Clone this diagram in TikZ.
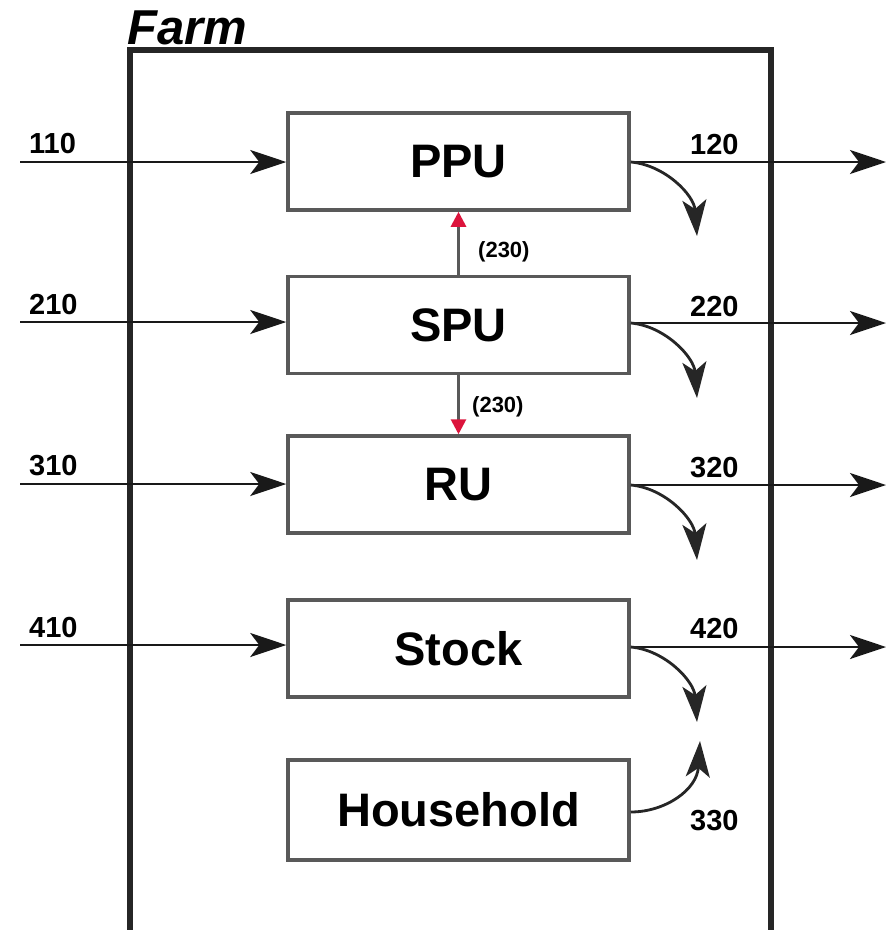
\documentclass[tikz,border=0pt]{standalone}
\usepackage{fontspec}
\setmainfont{Liberation Sans}
\usetikzlibrary{arrows.meta}
\definecolor{boxgray}{gray}{0.35}
\definecolor{tipred}{RGB}{220,20,60}
\tikzset{
  unitbox/.style={draw=boxgray, line width=3.5pt, minimum width=341pt, minimum height=97pt, inner sep=0pt, font=\bfseries\fontsize{47}{47}\selectfont},
  flow/.style={line width=2.8pt, draw=black!90, -{Stealth[length=36pt,width=24pt,inset=9pt]}},
  loss/.style={line width=2.8pt, draw=black!85, -{Stealth[length=36pt,width=24pt,inset=9pt]}},
  inner/.style={line width=2.8pt, draw=boxgray, -{Triangle[length=15pt,width=15pt,fill=tipred,color=tipred]}},
  num/.style={font=\bfseries\fontsize{29}{29}\selectfont, inner sep=0pt},
  small/.style={font=\bfseries\fontsize{22}{22}\selectfont, inner sep=0pt},
  frame/.style={line width=6pt, draw=black!85}
}
\begin{document}
\begin{tikzpicture}[x=1pt,y=-1pt]
\useasboundingbox (0,0) rectangle (891,930);
\fill[white] (0,0) rectangle (891,930);
% frame
\draw[frame] (130,935) -- (130,50) -- (771,50) -- (771,935);
\node[anchor=base west, inner sep=0pt, font=\bfseries\itshape\fontsize{49}{49}\selectfont] (farm) at (127,44) {Farm};
% boxes
\node[unitbox] (ppu) at (458.5,161.5) {PPU};
\node[unitbox] (spu) at (458.5,325) {SPU};
\node[unitbox] (ru) at (458.5,484.5) {RU};
\node[unitbox] (stock) at (458.5,648.5) {Stock};
\node[unitbox, minimum height=100pt] (hh) at (458.5,810) {Household};
% inputs
\coordinate (i1) at (20,162);
\coordinate (i2) at (20,322);
\coordinate (i3) at (20,484);
\coordinate (i4) at (20,645);
\draw[flow] (i1) -- (ppu.west |- i1);
\draw[flow] (i2) -- (spu.west |- i2);
\draw[flow] (i3) -- (ru.west |- i3);
\draw[flow] (i4) -- (stock.west |- i4);
\node[num, anchor=base west] (l110) at (29,153) {110};
\node[num, anchor=base west] (l210) at (29,314) {210};
\node[num, anchor=base west] (l310) at (29,475) {310};
\node[num, anchor=base west] (l410) at (29,637) {410};
% outputs
\coordinate (o1) at (886,162);
\coordinate (o2) at (886,323);
\coordinate (o3) at (886,485);
\coordinate (o4) at (886,647);
\draw[flow] (ppu.east |- o1) -- (o1);
\draw[flow] (spu.east |- o2) -- (o2);
\draw[flow] (ru.east |- o3) -- (o3);
\draw[flow] (stock.east |- o4) -- (o4);
\node[num, anchor=base west] (l120) at (690,154) {120};
\node[num, anchor=base west] (l220) at (690,316) {220};
\node[num, anchor=base west] (l320) at (690,477) {320};
\node[num, anchor=base west] (l420) at (690,638) {420};
% losses
\coordinate (d1) at (697,236);
\coordinate (d2) at (697,398);
\coordinate (d3) at (697,560);
\coordinate (d4) at (697,722);
\draw[loss] (ppu.east |- o1) .. controls (665,165) and (694,195) .. (d1);
\draw[loss] (spu.east |- o2) .. controls (665,326) and (694,357) .. (d2);
\draw[loss] (ru.east |- o3) .. controls (665,488) and (694,519) .. (d3);
\draw[loss] (stock.east |- o4) .. controls (665,650) and (694,681) .. (d4);
\coordinate (u5) at (700,741);
\draw[loss] (hh.east |- 0,812) .. controls (665,812) and (697,790) .. (u5);
\node[num, anchor=base west] (l330) at (690,830) {330};
% internal flows
\draw[inner] (spu.north) -- (ppu.south);
\draw[inner] (spu.south) -- (ru.north);
\node[small, anchor=west] (l230a) at (478,252) {(230)};
\node[small, anchor=west] (l230b) at (472,407) {(230)};
\end{tikzpicture}
\end{document}
